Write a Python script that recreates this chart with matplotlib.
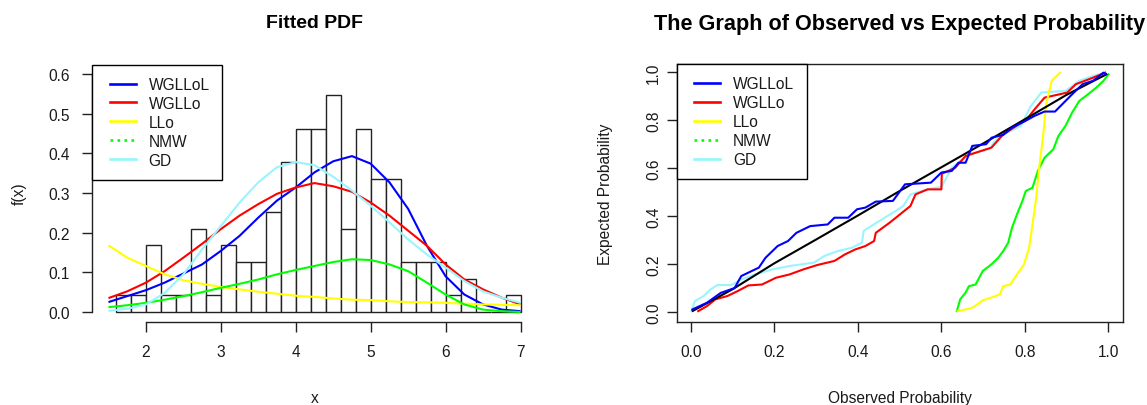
import numpy as np
import matplotlib
matplotlib.use("Agg")
import matplotlib.pyplot as plt
from matplotlib.lines import Line2D
from matplotlib.legend_handler import HandlerLine2D

plt.rcParams['font.family'] = ['Liberation Sans', 'DejaVu Sans']

# ---------------- Left panel data: histogram ----------------
bin_edges = [1.6 + 0.2 * i for i in range(28)]
bin_counts = [1, 1, 4, 1, 1, 5, 1, 4, 3, 3, 6, 9, 11, 11, 13, 5, 11, 8, 8, 3, 3, 3, 1, 2, 0, 0, 1]

# fitted densities
x_pdf = [1.5, 1.75, 2.0, 2.25, 2.5, 2.75, 3.0, 3.25, 3.5, 3.75, 4.0, 4.25,
         4.5, 4.75, 5.0, 5.25, 5.5, 5.75, 6.0, 6.25, 6.5, 6.75, 7.0]
pdf_wgllol = [0.025, 0.040, 0.055, 0.074, 0.097, 0.120, 0.154, 0.192, 0.238, 0.281, 0.314, 0.352,
              0.380, 0.393, 0.374, 0.327, 0.260, 0.167, 0.090, 0.044, 0.019, 0.006, 0.002]
pdf_wgllo = [0.035, 0.052, 0.074, 0.103, 0.137, 0.172, 0.209, 0.243, 0.272, 0.298, 0.314, 0.325,
             0.317, 0.303, 0.276, 0.243, 0.205, 0.167, 0.120, 0.082, 0.057, 0.036, 0.019]
pdf_llo = [0.168, 0.137, 0.116, 0.095, 0.080, 0.071, 0.063, 0.057, 0.051, 0.046, 0.041, 0.038,
           0.034, 0.031, 0.030, 0.027, 0.025, 0.0245, 0.023, 0.021, 0.019, 0.018, 0.017]
pdf_nmw = [0.012, 0.017, 0.023, 0.031, 0.040, 0.050, 0.061, 0.071, 0.082, 0.095, 0.106, 0.116,
           0.126, 0.133, 0.131, 0.120, 0.103, 0.074, 0.044, 0.019, 0.006, 0.002, 0.000]
pdf_gd = [0.003, 0.008, 0.019, 0.048, 0.095, 0.158, 0.217, 0.276, 0.327, 0.365, 0.378, 0.370,
          0.341, 0.306, 0.268, 0.226, 0.183, 0.145, 0.112, 0.078, 0.052, 0.036, 0.023]

# ---------------- Right panel data: P-P plot ----------------
obs_black = [0.005, 0.10, 0.20, 0.30, 0.40, 0.50, 0.60, 0.70, 0.80, 0.90, 0.995]
exp_black = [0.005, 0.095, 0.203, 0.302, 0.402, 0.504, 0.603, 0.702, 0.803, 0.905, 0.99]

obs_wgllol = [0.004, 0.039, 0.072, 0.105, 0.121, 0.146, 0.163, 0.179, 0.208, 0.233, 0.253, 0.286,
              0.328, 0.344, 0.377, 0.398, 0.418, 0.443, 0.484, 0.513, 0.575, 0.600, 0.625, 0.641,
              0.658, 0.674, 0.707, 0.720, 0.748, 0.769, 0.798, 0.823, 0.847, 0.872, 0.913, 0.938,
              0.963, 0.988, 0.993]
exp_wgllol = [0.011, 0.039, 0.080, 0.100, 0.150, 0.171, 0.185, 0.226, 0.275, 0.296, 0.330, 0.358,
              0.365, 0.393, 0.393, 0.428, 0.435, 0.460, 0.463, 0.532, 0.539, 0.581, 0.588, 0.622,
              0.622, 0.692, 0.699, 0.726, 0.738, 0.768, 0.793, 0.817, 0.835, 0.835, 0.907, 0.949,
              0.963, 0.997, 0.990]

obs_wgllo = [0.018, 0.039, 0.059, 0.088, 0.113, 0.138, 0.171, 0.204, 0.237, 0.270, 0.303, 0.344,
             0.369, 0.394, 0.418, 0.439, 0.443, 0.476, 0.501, 0.526, 0.538, 0.567, 0.600, 0.601,
             0.633, 0.658, 0.720, 0.748, 0.773, 0.806, 0.823, 0.847, 0.901, 0.922, 0.963, 0.992]
exp_wgllo = [0.004, 0.025, 0.053, 0.067, 0.088, 0.111, 0.115, 0.143, 0.157, 0.178, 0.196, 0.213,
             0.240, 0.261, 0.275, 0.296, 0.330, 0.372, 0.407, 0.442, 0.490, 0.511, 0.511, 0.576,
             0.601, 0.650, 0.685, 0.740, 0.768, 0.807, 0.844, 0.893, 0.914, 0.949, 0.976, 0.997]

obs_gd = [0.002, 0.010, 0.031, 0.047, 0.064, 0.097, 0.121, 0.154, 0.196, 0.237, 0.295, 0.319,
          0.352, 0.386, 0.410, 0.414, 0.451, 0.484, 0.509, 0.526, 0.567, 0.600, 0.625, 0.666,
          0.715, 0.728, 0.757, 0.790, 0.814, 0.839, 0.897, 0.930, 0.963, 0.992]
exp_gd = [0.004, 0.046, 0.067, 0.094, 0.113, 0.113, 0.136, 0.157, 0.178, 0.192, 0.206, 0.233,
          0.254, 0.268, 0.289, 0.338, 0.379, 0.414, 0.442, 0.490, 0.511, 0.521, 0.601, 0.657,
          0.678, 0.713, 0.747, 0.775, 0.858, 0.914, 0.921, 0.963, 0.983, 0.997]

obs_llo = [0.639, 0.658, 0.674, 0.686, 0.699, 0.724, 0.740, 0.748, 0.765, 0.781, 0.798, 0.810,
           0.818, 0.827, 0.835, 0.843, 0.851, 0.864, 0.884]
exp_llo = [0.004, 0.011, 0.018, 0.032, 0.049, 0.063, 0.074, 0.108, 0.115, 0.157, 0.199, 0.268,
           0.365, 0.476, 0.615, 0.726, 0.865, 0.963, 0.997]

obs_nmw = [0.637, 0.645, 0.658, 0.666, 0.682, 0.699, 0.720, 0.736, 0.748, 0.760, 0.769, 0.781,
           0.794, 0.802, 0.818, 0.831, 0.847, 0.868, 0.880, 0.897, 0.913, 0.930, 0.951, 0.971,
           0.988, 1.000]
exp_nmw = [0.004, 0.053, 0.081, 0.108, 0.115, 0.171, 0.199, 0.226, 0.254, 0.289, 0.351, 0.407,
           0.463, 0.504, 0.518, 0.588, 0.643, 0.678, 0.733, 0.775, 0.831, 0.879, 0.907, 0.935,
           0.963, 0.990]

legend_labels = ['WGLLoL', 'WGLLo', 'LLo', 'NMW', 'GD']
legend_colors = ['#0000FF', '#FF0000', '#FFFF00', '#00FF00', '#98F5FF']
legend_styles = ['-', '-', '-', ':', '-']

# ---------------- Figure ----------------
W, H = 1147, 406
fig = plt.figure(figsize=(W / 100, H / 100), dpi=100)

def axes_px(l, t, r, b):
    return fig.add_axes([l / W, 1 - b / H, (r - l) / W, (b - t) / H])

TXT = '#1a1a1a'
FS = 11.2
lw = 1.5

ax1 = axes_px(92, 65.5, 537, 322.7)
ax2 = axes_px(676.7, 65, 1122.7, 322.7)

# Left panel
counts = np.array(bin_counts, dtype=float)
edges = np.array(bin_edges)
dens = counts / (counts.sum() * np.diff(edges))
ax1.bar(edges[:-1], dens, width=np.diff(edges), align='edge', color='white',
        edgecolor='#222222', linewidth=1.0, zorder=1)
for yv, c in zip([pdf_wgllol, pdf_wgllo, pdf_llo, pdf_nmw, pdf_gd], legend_colors):
    ax1.plot(x_pdf, yv, color=c, lw=lw, solid_capstyle='butt', zorder=3)

ax1.set_xlim(1.28, 7.22)
ax1.set_ylim(-0.0245, 0.624)
for s in ['top', 'right']:
    ax1.spines[s].set_visible(False)
ax1.spines['left'].set_bounds(0, 0.6)
ax1.spines['bottom'].set_bounds(2, 7)
ax1.set_xticks([2, 3, 4, 5, 6, 7])
ax1.set_yticks([0.0, 0.1, 0.2, 0.3, 0.4, 0.5, 0.6])
ax1.set_yticklabels(['0.0', '0.1', '0.2', '0.3', '0.4', '0.5', '0.6'])
ax1.set_title('Fitted PDF', fontsize=14.0, fontweight='bold', pad=27, color='black')
ax1.set_xlabel('x', fontsize=FS, color=TXT, labelpad=22)
ax1.set_ylabel('f(x)', fontsize=FS, color=TXT, labelpad=15)

# Right panel
ax2.plot(obs_gd, exp_gd, color=legend_colors[4], lw=lw, zorder=2)
ax2.plot(obs_wgllo, exp_wgllo, color=legend_colors[1], lw=lw, zorder=3)
ax2.plot(obs_black, exp_black, color='black', lw=lw, zorder=4)
ax2.plot(obs_wgllol, exp_wgllol, color=legend_colors[0], lw=lw, zorder=5)
ax2.plot(obs_nmw, exp_nmw, color=legend_colors[3], lw=lw, zorder=3)
ax2.plot(obs_llo, exp_llo, color=legend_colors[2], lw=lw, zorder=3)
ax2.set_xlim(-0.0335, 1.034)
ax2.set_ylim(-0.04, 1.033)
ax2.set_xticks([0.0, 0.2, 0.4, 0.6, 0.8, 1.0])
ax2.set_xticklabels(['0.0', '0.2', '0.4', '0.6', '0.8', '1.0'])
ax2.set_yticks([0.0, 0.2, 0.4, 0.6, 0.8, 1.0])
ax2.set_yticklabels(['0.0', '0.2', '0.4', '0.6', '0.8', '1.0'], rotation=90, va='center')
ax2.set_title('The Graph of Observed vs Expected Probability', fontsize=15.6,
              fontweight='bold', pad=25, color='black')
ax2.set_xlabel('Observed Probability', fontsize=FS, color=TXT, labelpad=22)
ax2.set_ylabel('Expected Probability', fontsize=FS, color=TXT, labelpad=24)

for ax in (ax1, ax2):
    ax.tick_params(direction='out', length=7.2, width=1.0, colors='#222222',
                   labelsize=FS, labelcolor=TXT, pad=9)
    for s in ax.spines.values():
        s.set_color('#222222')
        s.set_linewidth(1.0)
    handles = [Line2D([], [], color=c, lw=1.9, ls=ls) for c, ls in zip(legend_colors, legend_styles)]
    leg = ax.legend(handles, legend_labels, loc='upper left', bbox_to_anchor=(0, 1),
                    borderaxespad=0, fontsize=FS, frameon=True, fancybox=False,
                    edgecolor='black', framealpha=1, borderpad=0.8, handlelength=2.0,
                    handletextpad=0.83, labelspacing=0.25,
                    handler_map={Line2D: HandlerLine2D(xpad=0.34)})
    leg.get_frame().set_linewidth(1.0)
    for t in leg.get_texts():
        t.set_color(TXT)
ax2.tick_params(axis='y', pad=4)

fig.savefig('out.png', dpi=100, facecolor='white')
